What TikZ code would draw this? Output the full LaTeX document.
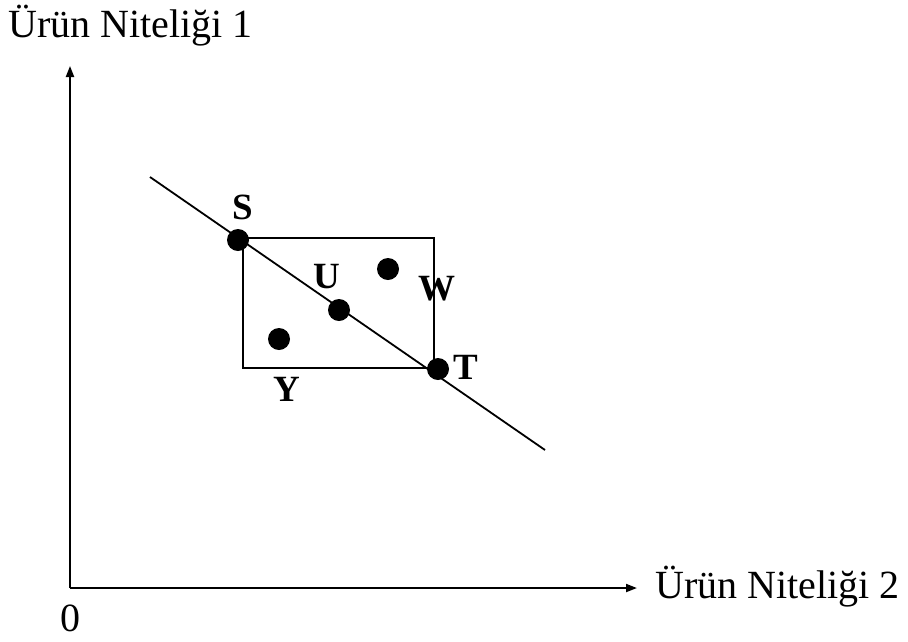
\documentclass[tikz,border=0pt]{standalone}
\usepackage{fontspec}
\setmainfont{Liberation Serif}
\usetikzlibrary{arrows.meta}
\begin{document}
\begin{tikzpicture}[x=1pt,y=-1pt,
  axis/.style={line width=2pt,-{Triangle[length=11pt,width=8pt]}},
  thin/.style={line width=1.8pt},
  dot/.style={circle,fill=black,inner sep=0pt,minimum size=22pt},
  lbl/.style={font=\fontsize{37}{40}\selectfont\bfseries,inner sep=0pt},
  axlbl/.style={font=\fontsize{40}{44}\selectfont,inner sep=0pt}]
\useasboundingbox (0,0) rectangle (908,641);
\coordinate (O) at (70,588);
\coordinate (ytip) at (70,66);
\coordinate (xtip) at (637,588);
\draw[axis] (O) -- (ytip);
\draw[axis] (O) -- (xtip);
\node[axlbl,anchor=base west] (ylab) at (8,37) {Ürün Niteliği 1};
\node[axlbl,anchor=base west] (xlab) at (655,598) {Ürün Niteliği 2};
\node[axlbl,anchor=base] (zero) at (70,631) {0};
\node[draw,thin,minimum width=191pt,minimum height=130pt,inner sep=0pt,anchor=north west] (box) at (242,237) {};
\coordinate (la) at (150,177);
\coordinate (lb) at (545,450);
\draw[thin] (la) -- (lb);
\node[dot] (S) at (238,240) {};
\node[dot] (U) at (339,310) {};
\node[dot] (W) at (388,269) {};
\node[dot] (Y) at (279,339) {};
\node[dot] (T) at (438,369) {};
\node[lbl,anchor=base] (Sl) at (243,219) {S};
\node[lbl,anchor=base] (Ul) at (327,288) {U};
\node[lbl,anchor=base] (Wl) at (437,300) {W};
\node[lbl,anchor=base] (Yl) at (287,401) {Y};
\node[lbl,anchor=base] (Tl) at (466,379) {T};
\end{tikzpicture}
\end{document}
